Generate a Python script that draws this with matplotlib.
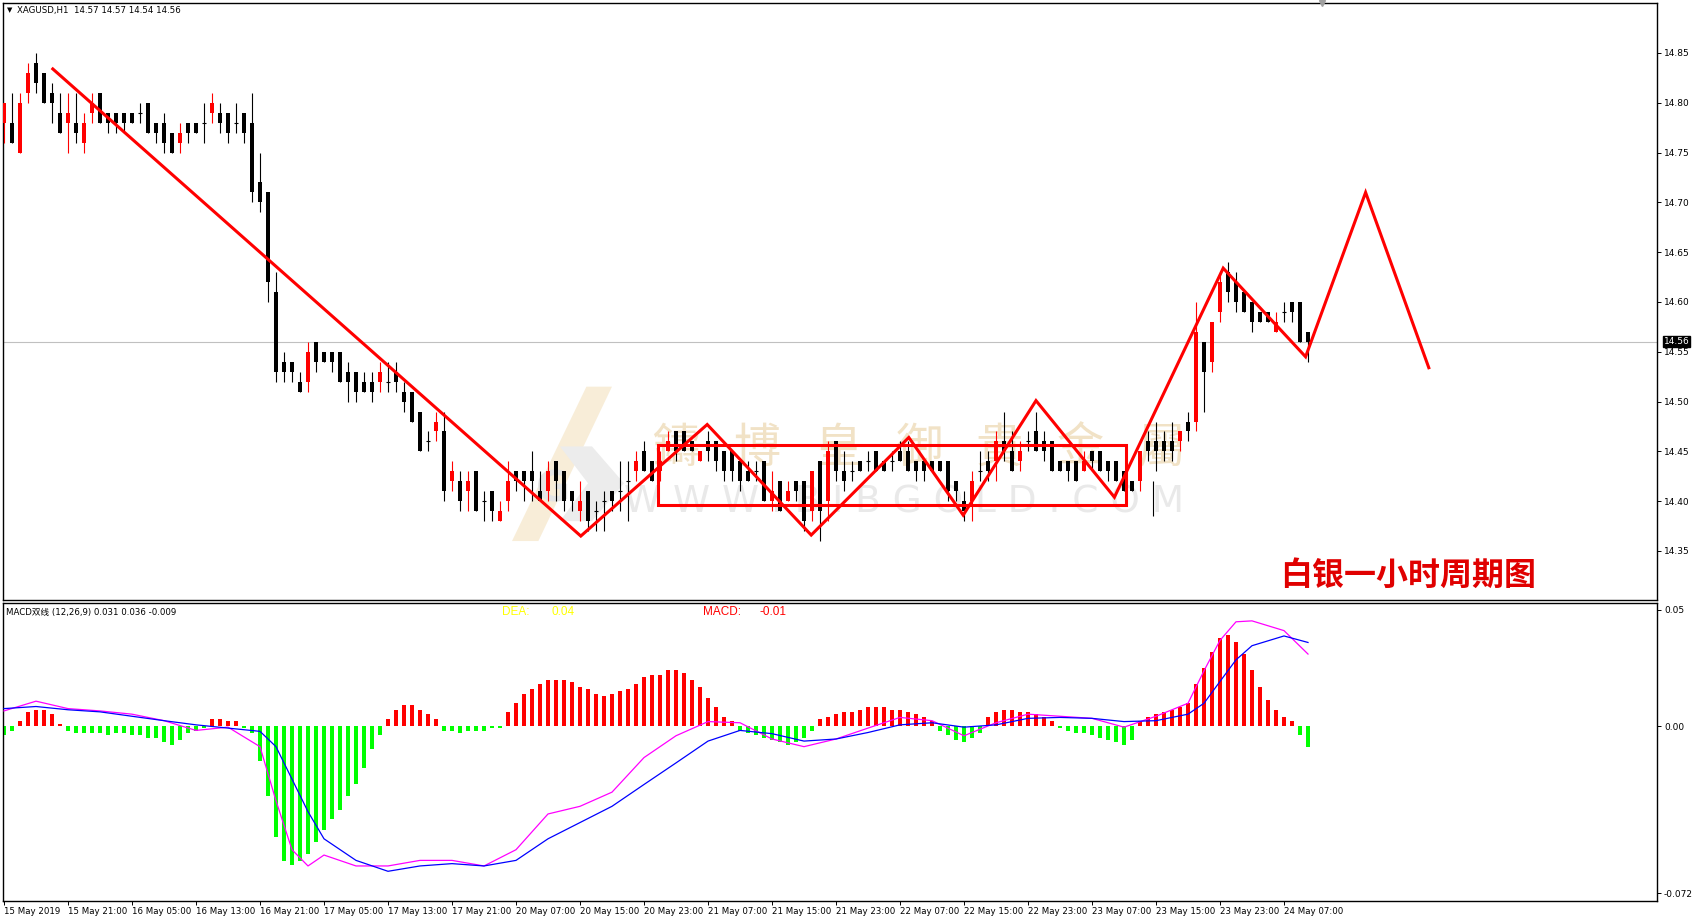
import numpy as np
import matplotlib
matplotlib.use("Agg")
import matplotlib.pyplot as plt
from matplotlib.patches import Rectangle, Polygon

plt.rcParams['font.family'] = ['DejaVu Sans', 'Noto Sans CJK SC']

# XAGUSD H1 candles (bar 0 = 15 May 2019 13:00)
opens = [14.78, 14.78, 14.75, 14.81, 14.84, 14.83, 14.81, 14.79, 14.78, 14.78,
         14.76, 14.79, 14.81, 14.79, 14.79, 14.79, 14.79, 14.79, 14.80, 14.78,
         14.78, 14.77, 14.76, 14.78, 14.78, 14.78, 14.79, 14.79, 14.79, 14.78,
         14.79, 14.78, 14.72, 14.71, 14.61, 14.54, 14.54, 14.52, 14.52, 14.56,
         14.55, 14.55, 14.55, 14.53, 14.53, 14.52, 14.52, 14.52, 14.52, 14.53,
         14.51, 14.51, 14.49, 14.46, 14.47, 14.47, 14.42, 14.42, 14.41, 14.43,
         14.40, 14.41, 14.38, 14.40, 14.43, 14.43, 14.43, 14.41, 14.41, 14.44,
         14.43, 14.41, 14.39, 14.41, 14.39, 14.40, 14.41, 14.41, 14.42, 14.43,
         14.45, 14.44, 14.43, 14.45, 14.47, 14.47, 14.46, 14.44, 14.46, 14.46,
         14.45, 14.45, 14.44, 14.43, 14.43, 14.44, 14.40, 14.42, 14.40, 14.42,
         14.42, 14.39, 14.44, 14.40, 14.46, 14.43, 14.43, 14.44, 14.44, 14.45,
         14.44, 14.44, 14.45, 14.45, 14.44, 14.44, 14.44, 14.44, 14.44, 14.42,
         14.40, 14.40, 14.43, 14.44, 14.44, 14.46, 14.45, 14.44, 14.46, 14.47,
         14.46, 14.46, 14.44, 14.44, 14.44, 14.43, 14.45, 14.45, 14.44, 14.44,
         14.43, 14.42, 14.42, 14.46, 14.46, 14.46, 14.46, 14.46, 14.48, 14.48,
         14.56, 14.54, 14.59, 14.63, 14.62, 14.61, 14.60, 14.59, 14.59, 14.57,
         14.59, 14.60, 14.60, 14.57]
highs = [14.80, 14.81, 14.81, 14.84, 14.85, 14.83, 14.82, 14.81, 14.81, 14.81,
         14.79, 14.81, 14.81, 14.79, 14.79, 14.79, 14.79, 14.80, 14.80, 14.78,
         14.79, 14.77, 14.78, 14.78, 14.78, 14.80, 14.81, 14.80, 14.79, 14.80,
         14.79, 14.81, 14.75, 14.71, 14.63, 14.55, 14.54, 14.53, 14.56, 14.56,
         14.55, 14.55, 14.55, 14.54, 14.53, 14.53, 14.53, 14.54, 14.54, 14.54,
         14.52, 14.51, 14.49, 14.47, 14.49, 14.49, 14.44, 14.43, 14.43, 14.43,
         14.41, 14.41, 14.40, 14.44, 14.43, 14.43, 14.45, 14.43, 14.44, 14.44,
         14.43, 14.41, 14.42, 14.41, 14.40, 14.41, 14.41, 14.44, 14.44, 14.45,
         14.46, 14.44, 14.45, 14.47, 14.47, 14.47, 14.46, 14.45, 14.47, 14.46,
         14.45, 14.45, 14.44, 14.44, 14.44, 14.44, 14.43, 14.42, 14.42, 14.42,
         14.42, 14.43, 14.44, 14.46, 14.46, 14.45, 14.44, 14.44, 14.45, 14.45,
         14.44, 14.45, 14.46, 14.46, 14.44, 14.44, 14.44, 14.44, 14.44, 14.42,
         14.41, 14.43, 14.45, 14.45, 14.47, 14.49, 14.47, 14.46, 14.47, 14.49,
         14.47, 14.46, 14.44, 14.44, 14.44, 14.45, 14.45, 14.45, 14.44, 14.44,
         14.43, 14.42, 14.45, 14.47, 14.48, 14.47, 14.48, 14.47, 14.49, 14.60,
         14.56, 14.58, 14.63, 14.64, 14.63, 14.61, 14.60, 14.59, 14.59, 14.59,
         14.60, 14.60, 14.60, 14.57]
lows = [14.76, 14.76, 14.75, 14.80, 14.81, 14.80, 14.78, 14.77, 14.75, 14.76,
        14.75, 14.78, 14.78, 14.77, 14.77, 14.77, 14.78, 14.78, 14.77, 14.76,
        14.75, 14.75, 14.75, 14.76, 14.77, 14.76, 14.78, 14.77, 14.76, 14.77,
        14.76, 14.70, 14.69, 14.60, 14.52, 14.52, 14.52, 14.51, 14.51, 14.53,
        14.54, 14.53, 14.52, 14.50, 14.50, 14.51, 14.50, 14.51, 14.51, 14.51,
        14.49, 14.48, 14.45, 14.45, 14.46, 14.40, 14.41, 14.39, 14.39, 14.39,
        14.38, 14.38, 14.38, 14.39, 14.41, 14.40, 14.40, 14.40, 14.40, 14.40,
        14.39, 14.39, 14.38, 14.37, 14.37, 14.37, 14.39, 14.39, 14.38, 14.42,
        14.43, 14.42, 14.42, 14.45, 14.44, 14.45, 14.45, 14.44, 14.44, 14.43,
        14.42, 14.42, 14.41, 14.42, 14.42, 14.40, 14.39, 14.39, 14.40, 14.40,
        14.37, 14.38, 14.36, 14.38, 14.42, 14.41, 14.42, 14.43, 14.43, 14.43,
        14.43, 14.43, 14.44, 14.43, 14.42, 14.42, 14.43, 14.43, 14.40, 14.40,
        14.38, 14.38, 14.42, 14.42, 14.42, 14.44, 14.43, 14.43, 14.45, 14.45,
        14.44, 14.43, 14.43, 14.42, 14.42, 14.43, 14.43, 14.43, 14.42, 14.42,
        14.41, 14.41, 14.41, 14.44, 14.43, 14.44, 14.44, 14.45, 14.46, 14.47,
        14.49, 14.53, 14.58, 14.60, 14.59, 14.59, 14.57, 14.58, 14.58, 14.57,
        14.58, 14.58, 14.56, 14.54]
closes = [14.80, 14.76, 14.80, 14.83, 14.82, 14.80, 14.80, 14.77, 14.79, 14.77,
          14.78, 14.80, 14.78, 14.78, 14.78, 14.78, 14.78, 14.79, 14.77, 14.77,
          14.76, 14.75, 14.77, 14.77, 14.77, 14.78, 14.80, 14.78, 14.77, 14.78,
          14.77, 14.71, 14.70, 14.62, 14.53, 14.53, 14.53, 14.51, 14.55, 14.54,
          14.54, 14.54, 14.52, 14.52, 14.51, 14.51, 14.51, 14.53, 14.52, 14.52,
          14.50, 14.48, 14.45, 14.46, 14.48, 14.41, 14.43, 14.40, 14.42, 14.39,
          14.40, 14.39, 14.39, 14.42, 14.42, 14.42, 14.42, 14.40, 14.43, 14.42,
          14.40, 14.40, 14.40, 14.38, 14.39, 14.40, 14.40, 14.41, 14.42, 14.44,
          14.43, 14.42, 14.44, 14.46, 14.45, 14.45, 14.45, 14.45, 14.45, 14.44,
          14.43, 14.43, 14.42, 14.42, 14.43, 14.40, 14.41, 14.39, 14.41, 14.41,
          14.38, 14.43, 14.39, 14.45, 14.43, 14.42, 14.43, 14.43, 14.44, 14.43,
          14.43, 14.44, 14.44, 14.43, 14.43, 14.43, 14.43, 14.43, 14.41, 14.41,
          14.39, 14.42, 14.43, 14.43, 14.46, 14.45, 14.43, 14.45, 14.46, 14.45,
          14.45, 14.43, 14.43, 14.43, 14.42, 14.44, 14.44, 14.43, 14.43, 14.42,
          14.41, 14.41, 14.45, 14.45, 14.45, 14.45, 14.45, 14.47, 14.47, 14.57,
          14.53, 14.58, 14.62, 14.61, 14.60, 14.59, 14.58, 14.58, 14.58, 14.58,
          14.59, 14.59, 14.56, 14.56]

# MACD histogram, one per bar
hist = [-0.004, -0.002, 0.002, 0.006, 0.007, 0.007, 0.005, 0.001,
        -0.002, -0.003, -0.003, -0.003, -0.003, -0.004, -0.003, -0.003, -0.004, -0.004, -0.005, -0.005,
        -0.007, -0.008, -0.006, -0.003, -0.002, -0.001,
        0.003, 0.003, 0.002, 0.002,
        -0.001, -0.003, -0.015, -0.030, -0.048, -0.058, -0.060, -0.058, -0.055, -0.050,
        -0.045, -0.040, -0.036, -0.030, -0.025, -0.018, -0.010, -0.004,
        0.003, 0.007, 0.009, 0.009, 0.007, 0.005, 0.003,
        -0.002, -0.002, -0.003, -0.002, -0.002, -0.002, -0.001, -0.001,
        0.006, 0.010, 0.014, 0.016, 0.018, 0.020, 0.020, 0.020, 0.019, 0.017,
        0.016, 0.014, 0.013, 0.014, 0.015, 0.016, 0.018, 0.021, 0.022, 0.022,
        0.024, 0.024, 0.023, 0.020, 0.017, 0.012, 0.008, 0.004, 0.002,
        -0.002, -0.003, -0.004, -0.005, -0.006, -0.007, -0.008, -0.007, -0.005, -0.002,
        0.003, 0.004, 0.005, 0.006, 0.006, 0.007, 0.008, 0.008, 0.008, 0.007,
        0.007, 0.006, 0.005, 0.004, 0.002,
        -0.002, -0.004, -0.006, -0.007, -0.005, -0.003,
        0.004, 0.006, 0.007, 0.007, 0.006, 0.006, 0.005, 0.004, 0.002,
        -0.001, -0.002, -0.003, -0.003, -0.004, -0.005, -0.006, -0.007, -0.008, -0.006,
        0.002, 0.004, 0.005, 0.006, 0.007, 0.008, 0.010, 0.018, 0.025, 0.032,
        0.038, 0.039, 0.036, 0.031, 0.024, 0.017, 0.011, 0.007, 0.004, 0.002,
        -0.004, -0.009]

# DIF (magenta) and DEA (blue) read at these bars
line_bars = [0, 4, 8, 12, 16, 20, 24, 28, 32, 34, 36, 38, 40, 44, 48, 52, 56, 60, 64, 68,
             72, 76, 80, 84, 88, 92, 96, 100, 104, 108, 112, 116, 120, 124, 128, 132, 136, 140, 144, 148,
             150, 152, 154, 156, 160, 163]
dif = [0.0065, 0.0107, 0.0075, 0.0065, 0.0051, 0.0023, -0.0019, -0.0005, -0.0089, -0.0322,
       -0.0533, -0.0603, -0.0556, -0.0603, -0.0603, -0.0579, -0.0579, -0.0603, -0.0533, -0.0379,
       -0.0346, -0.0285, -0.0136, -0.0042, 0.0019, 0.0014, -0.0056, -0.0089, -0.0056, -0.0009,
       0.0037, 0.0023, -0.0042, 0.0014, 0.0051, 0.0042, 0.0033, -0.0005, 0.0042, 0.0098,
       0.0238, 0.0369, 0.0449, 0.0453, 0.0411, 0.031]
dea = [0.0075, 0.0084, 0.0070, 0.0061, 0.0042, 0.0023, 0.0005, -0.0009, -0.0023, -0.0089,
       -0.0229, -0.0369, -0.0486, -0.0579, -0.0626, -0.0603, -0.0593, -0.0603, -0.0579, -0.0486,
       -0.0416, -0.0346, -0.0252, -0.0159, -0.0065, -0.0019, -0.0033, -0.0065, -0.0056, -0.0028,
       0.0005, 0.0014, -0.0005, 0.0005, 0.0033, 0.0037, 0.0033, 0.0019, 0.0023, 0.0051,
       0.0098, 0.0192, 0.0285, 0.0346, 0.0388, 0.036]

# time axis labels every 8 bars
tick_labels = ['15 May 2019', '15 May 21:00', '16 May 05:00', '16 May 13:00', '16 May 21:00',
               '17 May 05:00', '17 May 13:00', '17 May 21:00', '20 May 07:00', '20 May 15:00',
               '20 May 23:00', '21 May 07:00', '21 May 15:00', '21 May 23:00', '22 May 07:00',
               '22 May 15:00', '22 May 23:00', '23 May 07:00', '23 May 15:00', '23 May 23:00',
               '24 May 07:00']

# hand drawn analysis (bar, price)
zig_x = [6.1, 72.1, 87.9, 100.9, 113.1, 119.9, 129.0, 138.8, 152.4, 162.7, 170.2, 178.1]
zig_y = [14.834, 14.365, 14.477, 14.366, 14.464, 14.386, 14.501, 14.404, 14.634, 14.545, 14.71, 14.534]
box = (81.75, 140.25, 14.396, 14.456)
last_price = 14.56

W, H = 1697, 918
fig = plt.figure(figsize=(W / 100, H / 100), dpi=100)

def fx(x):
    return x / W

def fy(y):
    return 1 - y / H

ax1 = fig.add_axes([fx(3), fy(600), fx(1654), (600 - 3) / H])
ax2 = fig.add_axes([fx(3), fy(901), fx(1654), (901 - 603) / H])
xlim = (-0.125, 206.625)

# candles
n = len(opens)
x = np.arange(n)
o = np.array(opens); c = np.array(closes); hi = np.array(highs); lo = np.array(lows)
cols = np.where(c > o, '#ff0000', '#000000')
ax1.vlines(x, lo, hi, colors=cols, linewidth=0.8, zorder=3)
body = np.abs(c - o)
mask = body > 1e-9
ax1.bar(x[mask], body[mask], bottom=np.minimum(o, c)[mask], width=0.62,
        color=cols[mask], linewidth=0, zorder=4)
ax1.hlines(o[~mask], x[~mask] - 0.31, x[~mask] + 0.31, colors='#000000', linewidth=0.8, zorder=4)

# current price line
ax1.axhline(last_price, color='#c0c0c0', linewidth=0.8, zorder=1)

# watermark logo and text
ax1.add_patch(Polygon([[63.5, 14.36], [66.8, 14.36], [76.0, 14.515], [72.8, 14.515]], closed=True,
                      facecolor='#f6e8cc', edgecolor='none', alpha=0.75, zorder=1))
ax1.add_patch(Polygon([[69.5, 14.455], [73.5, 14.455], [77.5, 14.418], [73.5, 14.38], [69.5, 14.38],
                       [73.0, 14.418]], closed=True, facecolor='#ececec', edgecolor='none', zorder=1))
ax1.text(68.6, 14.412, 'G', fontsize=30, color='#e4e4e4', ha='center', va='center',
         weight='bold', zorder=1)
for k, ch in enumerate('鑄博皇御貴金屬'):
    ax1.text(84 + k * 10.1, 14.453, ch, fontsize=34, color='#f1e2c6', ha='center', va='center',
             family=['Noto Sans CJK TC'], zorder=2)
ax1.text(112.5, 14.399, 'W W W . B I B G O L D . C O M', fontsize=27, color='#e9e9e9',
         ha='center', va='center', zorder=2)

# analysis drawings
ax1.plot(zig_x, zig_y, color='#ff0000', linewidth=2.2, zorder=5, solid_joinstyle='miter')
ax1.add_patch(Rectangle((box[0], box[2]), box[1] - box[0], box[3] - box[2], fill=False,
                        edgecolor='#ff0000', linewidth=2.2, zorder=5))
ax1.vlines(143.6, 14.385, 14.420, color='#000000', linewidth=0.8, zorder=3)

ax1.set_xlim(*xlim)
ax1.set_ylim(14.3008, 14.9002)
ax1.set_xticks([])
ax1.yaxis.tick_right()
ax1.set_yticks([14.35, 14.40, 14.45, 14.50, 14.55, 14.60, 14.65, 14.70, 14.75, 14.80, 14.85])
ax1.set_yticklabels(['%.2f' % v for v in ax1.get_yticks()])
ax1.tick_params(axis='y', length=3, width=0.7, labelsize=6.5, pad=2)
ax1.plot([164.75], [14.9002], marker='v', color='#a0a0a0', markersize=5, clip_on=False, zorder=6)

# price tag
ax1.text(1.004, last_price, '14.56', transform=ax1.get_yaxis_transform(), fontsize=6.5,
         color='white', va='center', ha='left',
         bbox=dict(boxstyle='square,pad=0.12', facecolor='black', edgecolor='black'))

# MACD panel
hcol = np.where(np.array(hist) >= 0, '#ff0000', '#00ff00')
ax2.bar(x, hist, width=0.38, color=hcol, linewidth=0, zorder=2)
ax2.plot(line_bars, dif, color='#ff00ff', linewidth=0.9, zorder=3)
ax2.plot(line_bars, dea, color='#0000ff', linewidth=0.9, zorder=3)
ax2.set_xlim(*xlim)
ax2.set_ylim(-0.0754, 0.0530)
ax2.yaxis.tick_right()
ax2.set_yticks([0.05, 0.0, -0.072])
ax2.set_yticklabels(['0.05', '0.00', '-0.072'])
ax2.tick_params(axis='y', length=3, width=0.7, labelsize=6.5, pad=2)
ax2.set_xticks(np.arange(0, 161, 8))
ax2.set_xticklabels(tick_labels, ha='left')
ax2.tick_params(axis='x', length=3, width=0.7, labelsize=6.2, pad=1)

for ax in (ax1, ax2):
    for s in ax.spines.values():
        s.set_linewidth(1.0)

# texts
fig.text(fx(7), fy(10), '\u25bc', fontsize=5, color='black', va='center')
fig.text(fx(17), fy(10), 'XAGUSD,H1  14.57 14.57 14.54 14.56', fontsize=6.2, va='center')
fig.text(fx(6), fy(612), 'MACD双线 (12,26,9) 0.031 0.036 -0.009', fontsize=6.2, va='center')
fig.text(fx(502), fy(612), 'DEA:', fontsize=8.5, color='#ffff00', va='center', family=['Liberation Sans'])
fig.text(fx(552), fy(612), '0.04', fontsize=8.5, color='#ffff00', va='center', family=['Liberation Sans'])
fig.text(fx(703), fy(612), 'MACD:', fontsize=8.5, color='#ff0000', va='center', family=['Liberation Sans'])
fig.text(fx(759), fy(612), '-0.01', fontsize=8.5, color='#ff0000', va='center', family=['Liberation Sans'])
fig.text(fx(1280), fy(576), '白银一小时周期图', fontsize=23, color='#e00000', weight='bold',
         va='center', family=['Noto Sans CJK SC'])

fig.savefig('out.png', dpi=100)
